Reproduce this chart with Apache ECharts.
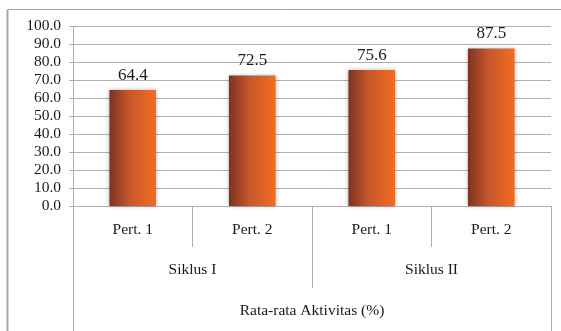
<!DOCTYPE html>
<html><head><meta charset="utf-8">
<script src="https://cdn.jsdelivr.net/npm/echarts@6/dist/echarts.min.js"></script>
<style>html,body{margin:0;padding:0;background:#fff}#c{width:561px;height:331px}</style>
</head><body><div id="c"></div>
<script>
const categories = ['Pert. 1', 'Pert. 2', 'Pert. 1', 'Pert. 2'];
const groups = ['Siklus I', 'Siklus II'];
const outerGroup = ['Rata-rata Aktivitas (%)'];
const values = [64.4, 72.5, 75.6, 87.5];

const chart = echarts.init(document.getElementById('c'));
const font = 'Liberation Serif';
const gray = '#b0b0b0';
const txt = '#1a1a1a';
chart.setOption({
  animation: false,
  grid: { left: 73, right: 10, top: 26, bottom: 125 },
  graphic: [
    { type: 'line', shape: { x1: 7.5, y1: 9.5, x2: 561, y2: 9.5 }, style: { stroke: '#a8a8a8', lineWidth: 1 } },
    { type: 'line', shape: { x1: 7.5, y1: 9.5, x2: 7.5, y2: 331 }, style: { stroke: '#a8a8a8', lineWidth: 2 } }
  ],
  yAxis: {
    type: 'value', min: 0, max: 100, interval: 10,
    axisLine: { show: true, lineStyle: { color: gray } },
    axisTick: { show: true, length: 4, lineStyle: { color: gray } },
    splitLine: { lineStyle: { color: gray } },
    axisLabel: { formatter: v => v.toFixed(1), fontFamily: font, fontSize: 15.5, color: txt, margin: 12 }
  },
  xAxis: [
    {
      type: 'category', data: categories, position: 'bottom',
      axisLine: { show: true, lineStyle: { color: gray } },
      axisTick: { show: true, length: 41, lineStyle: { color: gray } },
      axisLabel: { fontFamily: font, fontSize: 15.5, color: txt, margin: 16 }
    },
    {
      type: 'category', data: groups, position: 'bottom', gridIndex: 0,
      axisLine: { show: false },
      axisTick: { show: true, length: 82, lineStyle: { color: gray } },
      axisLabel: { fontFamily: font, fontSize: 15.5, color: txt, margin: 56 }
    },
    {
      type: 'category', data: outerGroup, position: 'bottom', gridIndex: 0,
      axisLine: { show: false },
      axisTick: { show: true, length: 126, lineStyle: { color: gray } },
      axisLabel: { fontFamily: font, fontSize: 15.5, color: txt, margin: 97 }
    }
  ],
  series: [{
    type: 'bar', xAxisIndex: 0, data: values, barWidth: '39%',
    itemStyle: {
      color: new echarts.graphic.LinearGradient(0, 0, 1, 0, [
        { offset: 0, color: '#7e3222' },
        { offset: 0.45, color: '#c8582a' },
        { offset: 1, color: '#f36c20' }
      ]),
      shadowBlur: 4, shadowColor: 'rgba(0,0,0,0.3)'
    },
    label: { show: true, position: 'top', distance: 6, formatter: p => p.value.toFixed(1), fontFamily: font, fontSize: 17, color: txt }
  }]
});
</script></body></html>
